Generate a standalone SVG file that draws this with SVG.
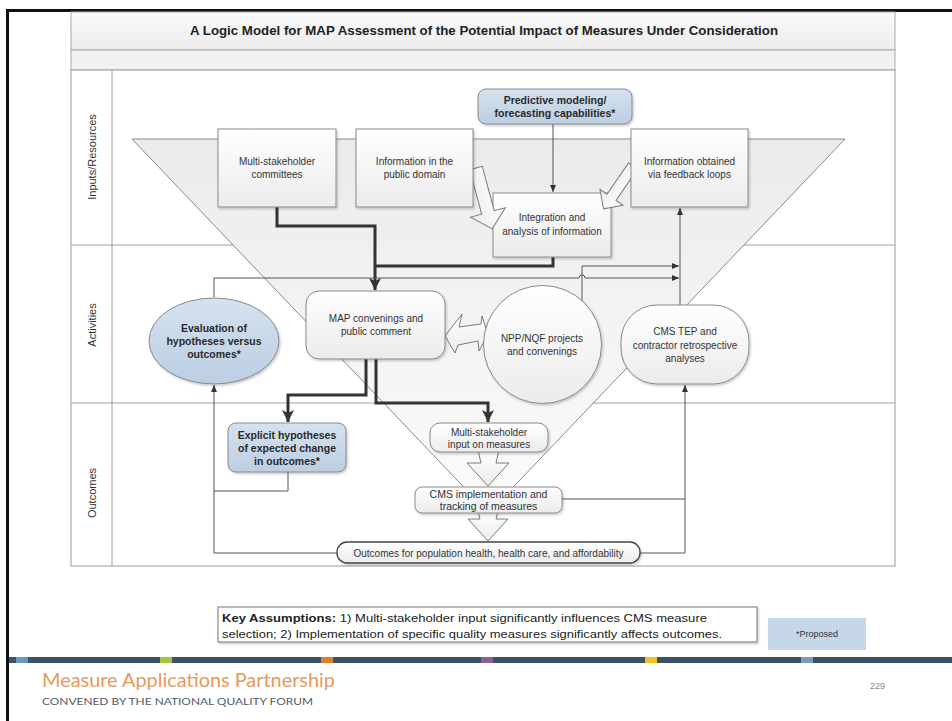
<svg xmlns="http://www.w3.org/2000/svg" width="952" height="721" viewBox="0 0 952 721">
  <style>
    .t { font-family: "Liberation Sans", Arial, sans-serif; font-size: 10px; fill: #333; text-anchor: middle; }
    .tb { font-family: "Liberation Sans", Arial, sans-serif; font-size: 10.5px; font-weight: bold; fill: #2a2a2a; text-anchor: middle; }
    .lane { font-family: "Liberation Sans", Arial, sans-serif; font-size: 11px; fill: #333; text-anchor: middle; }
    .box { fill: url(#gBox); stroke: #8a8a8a; stroke-width: 1; filter: url(#sh); }
    .blue { fill: url(#gBlue); stroke: #8a8a8a; stroke-width: 1; filter: url(#sh); }
    .frame { fill: none; stroke: #a0a0a0; stroke-width: 1; }
    .thin { fill: none; stroke: #555; stroke-width: 1; }
    .thick { fill: none; stroke: #333; stroke-width: 3; }
    .blk { fill: url(#gBox); stroke: #7a7a7a; stroke-width: 1; }
  </style>
  <defs>
    <linearGradient id="gBox" x1="0" y1="0" x2="0" y2="1">
      <stop offset="0" stop-color="#ffffff"/>
      <stop offset="1" stop-color="#ebebeb"/>
    </linearGradient>
    <linearGradient id="gBlue" x1="0" y1="0" x2="0" y2="1">
      <stop offset="0" stop-color="#d5e2ef"/>
      <stop offset="1" stop-color="#bccee2"/>
    </linearGradient>
    <linearGradient id="gTitle" x1="0" y1="0" x2="0" y2="1">
      <stop offset="0" stop-color="#fafafa"/>
      <stop offset="1" stop-color="#ececec"/>
    </linearGradient>
    <linearGradient id="gTri" gradientUnits="userSpaceOnUse" x1="0" y1="139" x2="0" y2="513">
      <stop offset="0" stop-color="#ebebeb"/>
      <stop offset="1" stop-color="#fbfbfb"/>
    </linearGradient>
    <filter id="sh" x="-10%" y="-10%" width="130%" height="140%">
      <feDropShadow dx="1.2" dy="1.5" stdDeviation="1" flood-color="#000" flood-opacity="0.22"/>
    </filter>
    <marker id="ah" viewBox="0 0 7 6" refX="7" refY="3" markerWidth="7" markerHeight="6" orient="auto" markerUnits="userSpaceOnUse">
      <path d="M0,0 L7,3 L0,6 Z" fill="#333"/>
    </marker>
    <marker id="ahb" viewBox="0 0 12 12" refX="12" refY="6" markerWidth="12" markerHeight="12" orient="auto" markerUnits="userSpaceOnUse">
      <path d="M0,0 L12,6 L0,12 L3,6 Z" fill="#333"/>
    </marker>
  </defs>

  <rect width="952" height="721" fill="#ffffff"/>
  <!-- slide border -->
  <path d="M7.5,721 V10.5 H952" fill="none" stroke="#111" stroke-width="3"/>

  <!-- title header and swimlane frame -->
  <g id="frame">
    <rect x="71" y="12" width="824" height="38" fill="url(#gTitle)" stroke="#aaa"/>
    <text x="484" y="35" textLength="588" lengthAdjust="spacingAndGlyphs" style="font-family:'Liberation Sans',Arial,sans-serif;font-size:13px;font-weight:bold;fill:#222;text-anchor:middle">A Logic Model for MAP Assessment of the Potential Impact of Measures Under Consideration</text>
    <rect x="71" y="50" width="824" height="20" fill="#f1f1f1" stroke="#aaa"/>
    <rect x="71" y="70" width="824" height="496" fill="#fff" stroke="#999"/>
    <line x1="112" y1="70" x2="112" y2="566" class="frame"/>
    <line x1="71" y1="245" x2="895" y2="245" class="frame"/>
    <line x1="71" y1="403" x2="895" y2="403" class="frame"/>
    <text class="lane" transform="translate(96,157) rotate(-90)">Inputs/Resources</text>
    <text class="lane" transform="translate(96,325) rotate(-90)">Activities</text>
    <text class="lane" transform="translate(96,493) rotate(-90)">Outcomes</text>
  </g>

  <!-- funnel -->
  <polygon id="funnel" points="132,139 845,139 488.5,513" fill="url(#gTri)" stroke="#8a8a8a" stroke-width="1"/>

  <!-- connectors -->
  <g id="connectors">
    <path class="thick" d="M277,207 V226 H375 V290" marker-end="url(#ahb)"/>
    <path class="thick" d="M553,257 V266 H375"/>
    <path class="thin" d="M553,124 V192" marker-end="url(#ah)"/>
    <path class="thin" d="M680,305 V208" marker-end="url(#ah)"/>
    <path class="thin" d="M214,297 V278 H579 a3,3 0 0 1 6,0 H679" marker-end="url(#ah)"/>
    <path class="thin" d="M582,301 V266 H679" marker-end="url(#ah)"/>
    <path class="thin" d="M338,553 H214 V385" marker-end="url(#ah)"/>
    <path class="thin" d="M288,472 V491 H214"/>
    <path class="thin" d="M640,553 H685 V385" marker-end="url(#ah)"/>
    <path class="thin" d="M562,499 H685"/>
    <path class="thick" d="M366,359 V395 H288 V422" marker-end="url(#ahb)"/>
    <path class="thick" d="M376,359 V403 H488 V422" marker-end="url(#ahb)"/>
    <!-- hollow flow arrows -->
    <polygon class="blk" points="445,336 462,314 459,327 481,324 482,316 488,334 479,351 478,341 458,345 455,353"/>
    <polygon class="blk" points="478,450 481,463 467,463 488,486 509,463 496,463 499,450"/>
    <polygon class="blk" points="478,511 480,519 468,519 488,541 508,519 496,519 498,511"/>
  </g>

  <!-- inputs -->
  <g id="n-integration">
    <rect class="box" x="493" y="193" width="118" height="64"/>
    <text class="t" x="552" y="221">Integration and</text>
    <text class="t" x="552" y="235">analysis of information</text>
  </g>
  <g id="block-arrows">
    <path class="blk" transform="translate(476,168) rotate(75)" d="M0,-6.5 L46,-6.5 L46,-18 L63,0 L46,18 L46,6.5 L0,6.5 Z"/>
    <path class="blk" transform="translate(633,166) rotate(124.5)" d="M0,-5.5 L38,-5.5 L38,-14 L52,0 L38,14 L38,5.5 L0,5.5 Z"/>
  </g>
  <g id="n-committees">
    <rect class="box" x="218" y="129" width="118" height="78"/>
    <text class="t" x="277" y="165">Multi-stakeholder</text>
    <text class="t" x="277" y="178">committees</text>
  </g>
  <g id="n-public">
    <rect class="box" x="356" y="129" width="117" height="78"/>
    <text class="t" x="414.5" y="165">Information in the</text>
    <text class="t" x="414.5" y="178">public domain</text>
  </g>
  <g id="n-predictive">
    <rect class="blue" x="478" y="89" width="154" height="35" rx="8"/>
    <text class="tb" x="555" y="104">Predictive modeling/</text>
    <text class="tb" x="555" y="117">forecasting capabilities*</text>
  </g>
  <g id="n-feedback">
    <rect class="box" x="631" y="129" width="117" height="78"/>
    <text class="t" x="689.5" y="165">Information obtained</text>
    <text class="t" x="689.5" y="178">via feedback loops</text>
  </g>

  <!-- activities -->
  <g id="n-evaluation">
    <ellipse class="blue" cx="214" cy="341" rx="65" ry="43"/>
    <text class="tb" x="214" y="332">Evaluation of</text>
    <text class="tb" x="214" y="345">hypotheses versus</text>
    <text class="tb" x="214" y="358">outcomes*</text>
  </g>
  <g id="n-map">
    <rect class="box" x="306" y="291" width="139" height="68" rx="13"/>
    <text class="t" x="376" y="322">MAP convenings and</text>
    <text class="t" x="376" y="335">public comment</text>
  </g>
  <g id="n-npp">
    <circle class="box" cx="542.5" cy="344.5" r="59"/>
    <text class="t" x="542" y="342">NPP/NQF projects</text>
    <text class="t" x="542" y="355">and convenings</text>
  </g>
  <g id="n-cms-tep">
    <rect class="box" x="621" y="305" width="128" height="79" rx="36"/>
    <text class="t" x="685" y="335">CMS TEP and</text>
    <text class="t" x="685" y="348.5">contractor retrospective</text>
    <text class="t" x="685" y="362">analyses</text>
  </g>

  <!-- outcomes -->
  <g id="n-explicit">
    <rect class="blue" x="228" y="423" width="118" height="49" rx="8"/>
    <text class="tb" x="287" y="439">Explicit hypotheses</text>
    <text class="tb" x="287" y="452">of expected change</text>
    <text class="tb" x="287" y="465">in outcomes*</text>
  </g>
  <g id="n-input">
    <rect class="box" x="430" y="423" width="118" height="29" rx="10"/>
    <text class="t" x="489" y="436">Multi-stakeholder</text>
    <text class="t" x="489" y="448">input on measures</text>
  </g>
  <g id="n-cms-impl">
    <rect class="box" x="415" y="487" width="147" height="26" rx="7"/>
    <text class="t" x="488.5" y="497.5" style="font-size:10.5px">CMS implementation and</text>
    <text class="t" x="488.5" y="510" style="font-size:10.5px">tracking of measures</text>
  </g>
  <g id="n-outcomes">
    <rect class="box" x="337" y="542" width="303" height="21" rx="10" style="stroke:#444;stroke-width:1.3"/>
    <text class="t" x="488.5" y="556.5">Outcomes for population health, health care, and affordability</text>
  </g>

  <!-- notes -->
  <g id="key-assumptions">
    <rect x="218" y="607" width="539" height="35" fill="#fff" stroke="#777" filter="url(#sh)"/>
    <text x="222" y="622" textLength="485" lengthAdjust="spacingAndGlyphs" style="font-family:'Liberation Sans',Arial,sans-serif;font-size:11.5px;fill:#222"><tspan font-weight="bold">Key Assumptions:</tspan> 1) Multi-stakeholder input significantly influences CMS measure</text>
    <text x="222" y="637.5" textLength="500" lengthAdjust="spacingAndGlyphs" style="font-family:'Liberation Sans',Arial,sans-serif;font-size:11.5px;fill:#222">selection; 2) Implementation of specific quality measures significantly affects outcomes.</text>
  </g>
  <g id="legend-proposed">
    <rect x="768" y="618" width="98" height="32" fill="#c6d7ea"/>
    <text class="t" x="817" y="637" style="font-size:9px">*Proposed</text>
  </g>

  <!-- footer -->
  <g id="footer">
    <rect x="9" y="657" width="943" height="6" fill="#3e5266"/>
    <rect x="16" y="657" width="12" height="6" fill="#6a98bd"/>
    <rect x="160" y="657" width="12" height="6" fill="#a9c23c"/>
    <rect x="321" y="657" width="12" height="6" fill="#e27d2c"/>
    <rect x="481" y="657" width="12" height="6" fill="#8d5e9c"/>
    <rect x="645" y="657" width="12" height="6" fill="#efc31c"/>
    <rect x="801" y="657" width="12" height="6" fill="#7e9db5"/>
    <text x="42" y="687" textLength="293" lengthAdjust="spacingAndGlyphs" style="font-family:Lato,'Open Sans',sans-serif;font-size:19px;fill:#e8985a">Measure Applications Partnership</text>
    <text x="42" y="705" textLength="271" lengthAdjust="spacingAndGlyphs" style="font-family:Lato,'Open Sans',sans-serif;font-size:10px;fill:#4f5b66">CONVENED BY THE NATIONAL QUALITY FORUM</text>
    <text x="870" y="689" style="font-family:'Liberation Sans',Arial,sans-serif;font-size:9px;fill:#888">229</text>
  </g>
</svg>
